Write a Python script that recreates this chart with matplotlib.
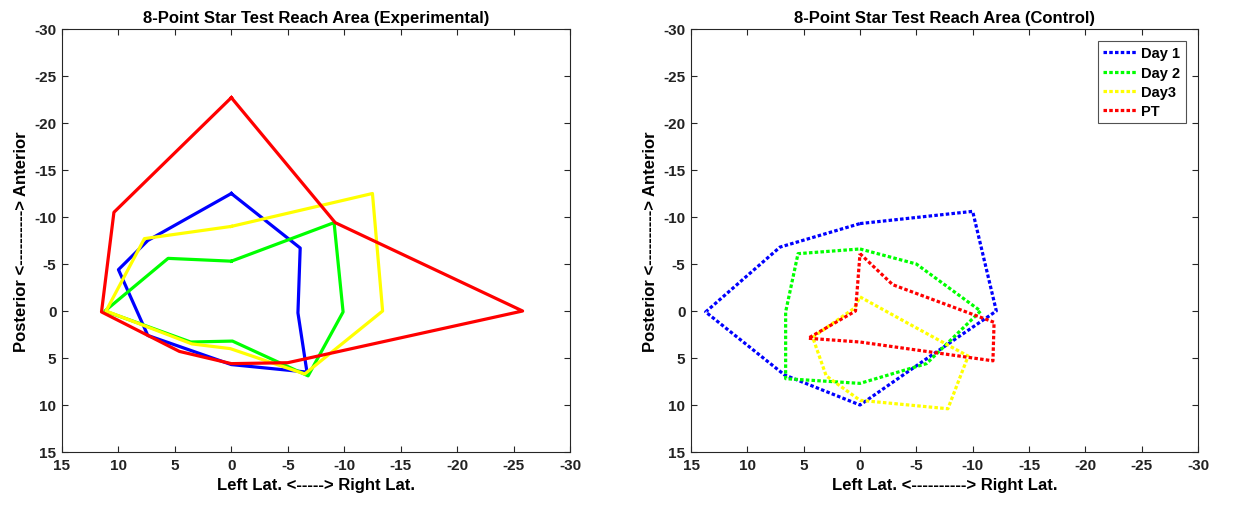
import matplotlib
matplotlib.use("Agg")
import matplotlib.pyplot as plt

plt.rcParams['font.family'] = ['Liberation Sans', 'DejaVu Sans']
plt.rcParams['font.weight'] = 'bold'

# 8 reach directions, order: Ant, Ant-R, R, Post-R, Post, Post-L, L, Ant-L
# Experimental (lateral x, anterior/posterior y)
exp_day1_x = [0.0, -6.1, -5.9, -6.7, 0.0, 7.4, 10.0, 7.4]
exp_day1_y = [-12.5, -6.7, 0.2, 6.5, 5.7, 2.6, -4.4, -7.5]
exp_day2_x = [0.0, -9.1, -9.9, -6.8, -0.1, 3.6, 11.2, 5.6]
exp_day2_y = [-5.3, -9.4, 0.1, 6.9, 3.2, 3.3, 0.0, -5.6]
exp_day3_x = [0.0, -12.5, -13.4, -6.5, 0.1, 3.5, 11.1, 7.7]
exp_day3_y = [-9.0, -12.5, 0.0, 6.7, 4.0, 3.5, 0.0, -7.7]
exp_pt_x = [0.0, -9.2, -25.8, -5.0, 0.0, 4.6, 11.5, 10.4]
exp_pt_y = [-22.7, -9.4, 0.0, 5.5, 5.6, 4.3, 0.1, -10.5]

# Control
con_day1_x = [0.0, -10.0, -12.1, -6.0, 0.0, 6.7, 13.7, 7.1]
con_day1_y = [-9.3, -10.6, 0.0, 5.0, 10.0, 6.8, 0.1, -6.8]
con_day2_x = [0.0, -5.0, -10.7, -5.9, 0.0, 6.6, 6.6, 5.5]
con_day2_y = [-6.6, -5.0, 0.0, 5.6, 7.7, 7.2, 0.1, -6.1]
con_day3_x = [0.0, -4.7, -9.6, -7.8, 0.0, 3.0, 4.2, 0.5]
con_day3_y = [-1.5, 1.6, 4.8, 10.4, 9.5, 6.9, 2.8, -0.3]
con_pt_x = [0.0, -2.9, -11.9, -11.8, 0.0, 4.6, 0.4, 0.2]
con_pt_y = [-6.1, -2.8, 1.2, 5.3, 3.3, 2.9, 0.0, -3.0]

labels = ['Day 1', 'Day 2', 'Day3', 'PT']
colors = ['#0000ff', '#00ff00', '#ffff00', '#ff0000']
xticks = [15, 10, 5, 0, -5, -10, -15, -20, -25, -30]
yticks = [-30, -25, -20, -15, -10, -5, 0, 5, 10, 15]

exp_series = [(exp_day1_x, exp_day1_y), (exp_day2_x, exp_day2_y),
              (exp_day3_x, exp_day3_y), (exp_pt_x, exp_pt_y)]
con_series = [(con_day1_x, con_day1_y), (con_day2_x, con_day2_y),
              (con_day3_x, con_day3_y), (con_pt_x, con_pt_y)]

fig = plt.figure(figsize=(12.41, 5.10), dpi=100)
ax1 = fig.add_axes([62/1241, 1-453/510, 508/1241, 423/510])
ax2 = fig.add_axes([691/1241, 1-453/510, 507/1241, 423/510])

def close(v):
    return list(v) + [v[0]]

for (x, y), c, lab in zip(exp_series, colors, labels):
    ax1.plot(close(x), close(y), color=c, lw=2.3, label=lab)
for (x, y), c, lab in zip(con_series, colors, labels):
    ax2.plot(close(x), close(y), color=c, lw=2.3, linestyle=(0, (1.1, 0.7)), label=lab)

edge = '#262626'
for ax, title, xl in [(ax1, '8-Point Star Test Reach Area (Experimental)', 'Left Lat. <-----> Right Lat.'),
                      (ax2, '8-Point Star Test Reach Area (Control)', 'Left Lat. <----------> Right Lat.')]:
    ax.set_xlim(15, -30)
    ax.set_ylim(15, -30)
    ax.set_xticks(xticks)
    ax.set_yticks(yticks)
    ax.set_xticklabels([str(t) for t in xticks])
    ax.set_yticklabels([str(t) for t in yticks])
    ax.tick_params(direction='in', top=True, right=True, length=4, width=0.8,
                   labelsize=11, colors=edge, labelcolor='#222222', pad=4)
    for lbl in ax.get_xticklabels() + ax.get_yticklabels():
        lbl.set_fontweight('bold')
    for s in ax.spines.values():
        s.set_color(edge)
        s.set_linewidth(0.8)
    ax.set_title(title, fontsize=12, fontweight='bold', pad=5)
    ax.set_xlabel(xl, fontsize=12, fontweight='bold', labelpad=4)
    ax.set_ylabel('Posterior <----------> Anterior', fontsize=12, fontweight='bold', labelpad=4)

leg = ax2.legend(loc='upper right', prop={'weight': 'bold', 'size': 10.5},
                 handlelength=2.3, borderaxespad=0.85, frameon=True, fancybox=False,
                 labelspacing=0.35, handletextpad=0.3, borderpad=0.35)
leg.get_frame().set_edgecolor(edge)
leg.get_frame().set_linewidth(0.8)

fig.savefig('out.png', dpi=100)
